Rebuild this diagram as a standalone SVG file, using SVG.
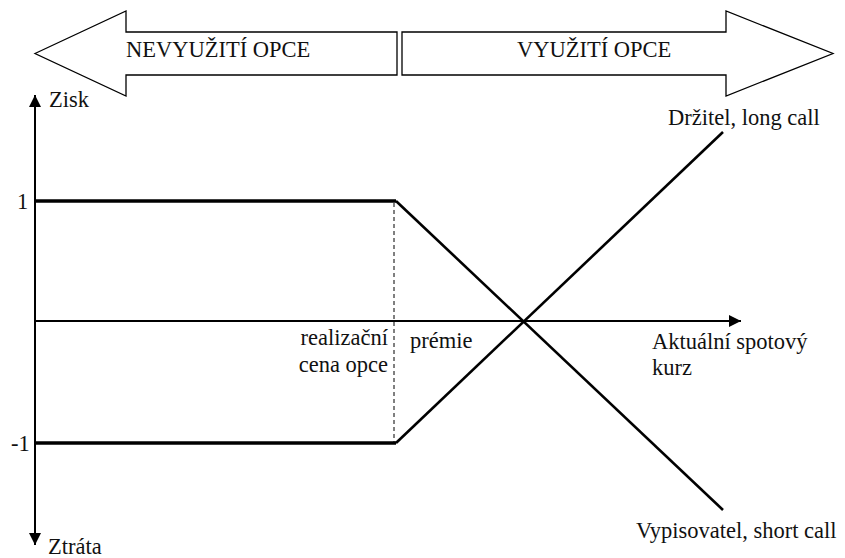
<svg xmlns="http://www.w3.org/2000/svg" width="845" height="558" viewBox="0 0 845 558">
<defs>
<style>
.t{font-family:"Liberation Serif","Times New Roman",Times,"DejaVu Serif",serif;font-size:22.5px;fill:#111;}
.big{fill:#fff;stroke:#000;stroke-width:1.3;stroke-linejoin:miter;}
.axis{stroke:#000;stroke-width:2;fill:none;}
.pay{stroke:#000;stroke-width:2.6;fill:none;}
.flat{stroke:#000;stroke-width:3.4;fill:none;}
.dash{stroke:#000;stroke-width:1;stroke-dasharray:4,3;fill:none;}
</style>
<marker id="ah" viewBox="0 0 10 10" refX="10" refY="5" markerWidth="6" markerHeight="6" orient="auto" markerUnits="strokeWidth">
<path d="M0,0 L10,5 L0,10 z" fill="#000"/>
</marker>
</defs>
<rect width="845" height="558" fill="#fff"/>
<g id="nevyuziti">
<polygon class="big" points="35,53.5 126,11 126,32 397,32 397,75 126,75 126,96"/>
<text class="t" x="126" y="57">NEVYUŽITÍ OPCE</text>
</g>
<g id="vyuziti">
<polygon class="big" points="402,32 726,32 726,11 833,53.5 726,96 726,75 402,75"/>
<text class="t" x="517" y="57">VYUŽITÍ OPCE</text>
</g>
<g id="connectors">
<line class="axis" x1="35" y1="321" x2="35" y2="95" marker-end="url(#ah)"/>
<line class="axis" x1="35" y1="321" x2="35" y2="545" marker-end="url(#ah)"/>
<line class="axis" x1="35" y1="321" x2="741" y2="321" marker-end="url(#ah)"/>
<line class="dash" x1="394" y1="203" x2="394" y2="442"/>
<line id="short-call" class="pay" x1="396" y1="201" x2="723" y2="510"/>
<line class="flat" x1="35" y1="201" x2="396" y2="201"/>
<line id="long-call" class="pay" x1="396" y1="443" x2="723" y2="132"/>
<line class="flat" x1="35" y1="443" x2="396" y2="443"/>
</g>
<g id="labels">
<text class="t" x="49" y="107">Zisk</text>
<text class="t" x="48" y="554">Ztráta</text>
<text class="t" x="17" y="209">1</text>
<text class="t" x="11" y="451">-1</text>
<text class="t" x="388" y="345" text-anchor="end">realizační</text>
<text class="t" x="388" y="372" text-anchor="end">cena opce</text>
<text class="t" x="410" y="348">prémie</text>
<text class="t" x="652" y="349">Aktuální spotový</text>
<text class="t" x="652" y="375">kurz</text>
<text class="t" x="668" y="125">Držitel, long call</text>
<text class="t" x="636" y="538">Vypisovatel, short call</text>
</g>
</svg>
